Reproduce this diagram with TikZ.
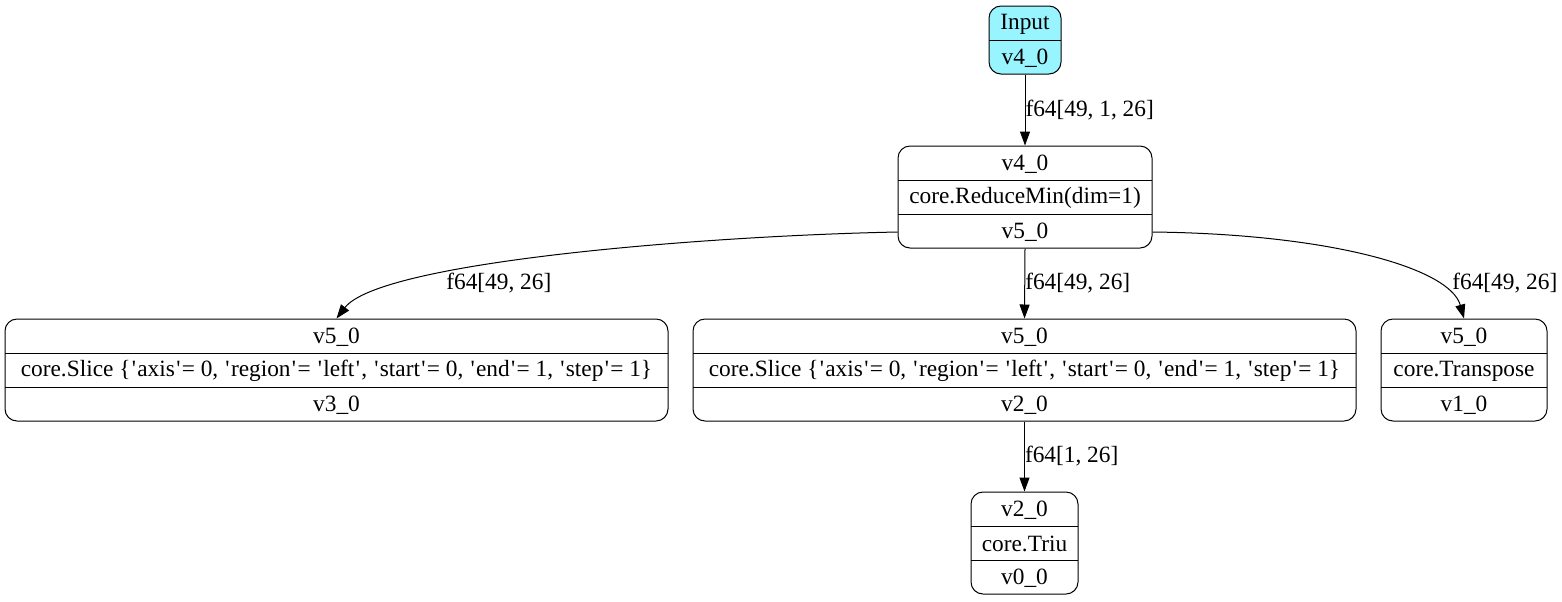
\documentclass[tikz,border=0pt]{standalone}
\usepackage{fontspec}
% plain family: keeps straight quotes in the record texts
\newfontfamily\gvfont{Liberation Serif}
\usetikzlibrary{arrows.meta}
\definecolor{inputfill}{HTML}{98F5FF}
\newcommand\pxu{0.6pt}
% straight quote with a little air on both sides
\newcommand\qt{\kern0.8pt'\kern0.8pt}
\tikzset{
  rec/.style={draw, rounded corners=7.2pt, line width=0.6pt, inner sep=0pt},
  lbl/.style={inner sep=0pt, font=\gvfont\fontsize{14}{16}\selectfont},
  divider/.style={line width=0.6pt},
  flow/.style={draw, line width=0.6pt, -{Triangle[length=8.4pt,width=6pt]}},
  elbl/.style={lbl, anchor=west},
}
% three-row record: name, centre x, top y, width, three texts
\newcommand\threerow[7]{%
  \node[rec, minimum width={#4*\pxu}, minimum height={102*\pxu}] (#1) at (#2,#3+51) {};
  \node[lbl] (#1-a) at (#2,#3+18) {#5};
  \node[lbl] (#1-b) at (#2,#3+52) {#6};
  \node[lbl] (#1-c) at (#2,#3+86) {#7};
  \draw[divider] (#2-#4/2,#3+34) -- (#2+#4/2,#3+34);
  \draw[divider] (#2-#4/2,#3+68) -- (#2+#4/2,#3+68);
}
\newcommand\slicetext{core.Slice \{\qt axis\qt= 0, \qt region\qt= \qt left\qt, \qt start\qt= 0, \qt end\qt= 1, \qt step\qt= 1\}}
\begin{document}
\begin{tikzpicture}[x=0.6pt,y=-0.6pt]
\useasboundingbox (0,0) rectangle (1562,601);

% input record
\node[rec, fill=inputfill, minimum width={72*\pxu}, minimum height={68*\pxu}] (in) at (1025,40) {};
\node[lbl] (in-a) at (1025,24) {Input};
\node[lbl] (in-b) at (1025,58) {v4\_0};
\draw[divider] (989,40) -- (1061,40);

\threerow{rmin}{1025}{146}{254}{v4\_0}{core.ReduceMin(dim=1)}{v5\_0}
\threerow{sl}{336.5}{319}{663}{v5\_0}{\slicetext}{v3\_0}
\threerow{sm}{1024.5}{319}{663}{v5\_0}{\slicetext}{v2\_0}
\threerow{tr}{1464}{319}{166}{v5\_0}{core.Transpose}{v1\_0}
\threerow{tu}{1024.5}{492}{107}{v2\_0}{core.Triu}{v0\_0}

% connectors
\draw[flow] (in.south) -- node[elbl, pos=0.5] (l1) {f64[49, 1, 26]} (rmin.north);
\draw[flow] (rmin.west |- rmin-c) .. controls (700,236) and (380,262) .. (sl.north) ;
\node[elbl] (l2) at (446,283) {f64[49, 26]};
\draw[flow] (rmin.south) -- node[elbl, pos=0.5] (l3) {f64[49, 26]} (sm.north);
\draw[flow] (rmin.east |- rmin-c) .. controls (1330,234) and (1450,268) .. (tr.north);
\node[elbl] (l4) at (1452,283) {f64[49, 26]};
\draw[flow] (sm.south) -- node[elbl, pos=0.5] (l5) {f64[1, 26]} (tu.north);
\end{tikzpicture}
\end{document}
